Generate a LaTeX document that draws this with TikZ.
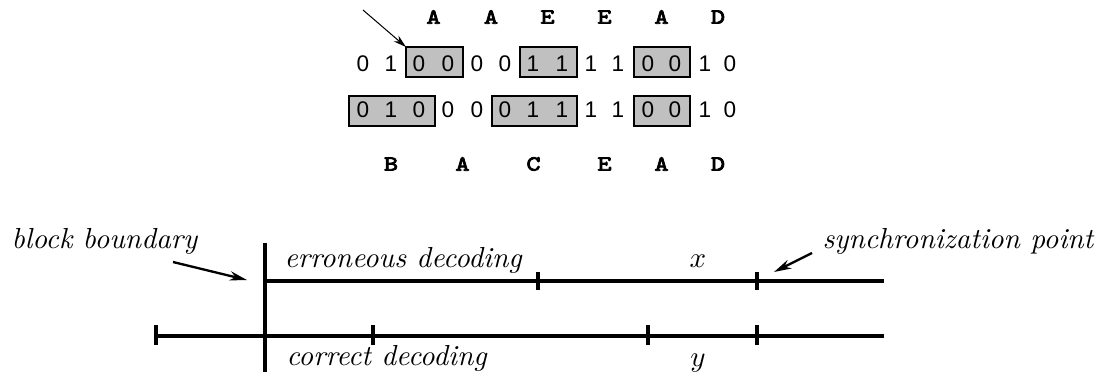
\documentclass[tikz,border=0pt]{standalone}
\usepackage{fontspec}
\newfontfamily\digitfont{Liberation Sans}
\newfontfamily\letterfont[Extension=.otf, FakeBold=4, FakeStretch=1.25]{lmmono10-regular}
\usetikzlibrary{arrows.meta}
\definecolor{boxgray}{RGB}{192,192,192}
\tikzset{
  dig/.style={font=\digitfont\fontsize{7.8}{9}\selectfont, inner sep=0pt, anchor=center},
  lett/.style={font=\letterfont\fontsize{7.4}{8}\selectfont, inner sep=0pt, anchor=center},
  lbl/.style={font=\itshape, inner sep=0pt},
  bitbox/.style={draw=black, fill=boxgray, line width=0.4pt},
  axis/.style={line width=1.15pt},
  tick/.style={line width=1.15pt},
  thinarrow/.style={line width=0.35pt, -{Stealth[length=4.5pt,width=2.6pt]}},
  thickarrow/.style={line width=0.8pt, -{Stealth[length=6pt,width=3.2pt]}}
}
\begin{document}
\begin{tikzpicture}[x=0.345pt,y=-0.345pt]
\useasboundingbox (0,0) rectangle (1104,379);
% boxes
\draw[bitbox] (406,47) coordinate (box1tl) rectangle (463,77);
\draw[bitbox] (520,47) rectangle (577,77);
\draw[bitbox] (634,47) rectangle (690,77);
\draw[bitbox] (349,96) rectangle (435,126);
\draw[bitbox] (492,96) rectangle (577,126);
\draw[bitbox] (634,96) rectangle (690,126);
% digits
\foreach \x/\d [count=\i] in {363/0,391/1,419/0,448/0,477/0,505/0,533/1,562/1,591/1,618/1,648/0,675/0,705/1,730/0}{
  \node[dig] (r1d\i) at (\x,64) {\d};
  \node[dig] (r2d\i) at (\x,110) {\d};
}
% letters
\foreach \x/\l [count=\i] in {433.5/A,491/A,547.5/E,604.5/E,661.5/A,718/D}{
  \node[lett] (top\i) at (\x,17) {\l};
}
\foreach \x/\l [count=\i] in {391/B,462.5/A,533.5/C,604.5/E,661.5/A,718/D}{
  \node[lett] (bot\i) at (\x,164) {\l};
}
\coordinate (tarrow) at (363,10);
\draw[thinarrow] (tarrow) -- (box1tl);
% timeline
\coordinate (bbT) at (265,243);
\coordinate (bbB) at (265,372);
\draw[axis] (bbT) -- (bbB);
\coordinate (uL) at (265,281);
\coordinate (uR) at (884,281);
\draw[axis] (uL) -- (uR);
\coordinate (lL) at (156,336);
\coordinate (lR) at (884,336);
\draw[axis] (lL) -- (lR);
\foreach \x in {538,757}{ \draw[tick] (\x,272) -- (\x,290); }
\foreach \x in {156,373,648,757}{ \draw[tick] (\x,325) -- (\x,345); }
% labels
\node[lbl, anchor=base west] (bb) at (11,248) {block boundary};
\node[lbl, anchor=base west] (err) at (284,267) {erroneous decoding};
\node[lbl, anchor=base west] (cor) at (286,365) {correct decoding};
\node[inner sep=0pt, anchor=base] (xl) at (698,267) {$x$};
\node[inner sep=0pt, anchor=base] (yl) at (698,366) {$y$};
\node[lbl, anchor=base west] (sp) at (822,248) {synchronization point};
\coordinate (bbA1) at (173,262);
\coordinate (bbA2) at (247,280);
\draw[thickarrow] (bbA1) -- (bbA2);
\coordinate (spA1) at (812,253);
\coordinate (spA2) at (774,272);
\draw[thickarrow] (spA1) -- (spA2);
\end{tikzpicture}
\end{document}
